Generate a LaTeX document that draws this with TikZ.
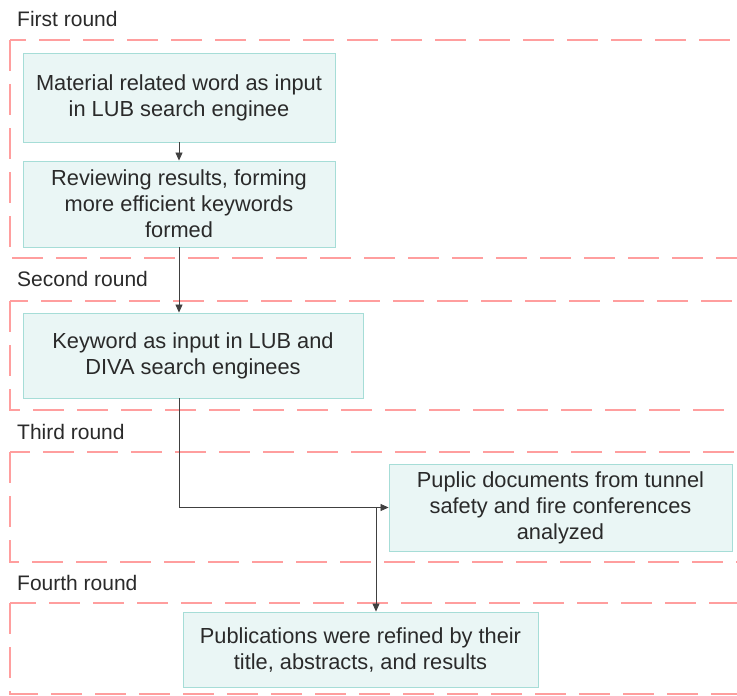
\documentclass[tikz,border=0pt]{standalone}
\usepackage{fontspec}
\setmainfont{Liberation Sans}
\usetikzlibrary{arrows.meta}
\definecolor{boxfill}{HTML}{EAF6F5}
\definecolor{boxline}{HTML}{A6DDD7}
\definecolor{roundline}{HTML}{FF9E9E}
\definecolor{txt}{HTML}{2A2A2A}
\definecolor{conn}{HTML}{404040}
\begin{document}
\begin{tikzpicture}[x=1bp,y=-1bp,
  stepbox/.style={draw=boxline,fill=boxfill,line width=0.9bp,align=center,text=txt,
    font=\fontsize{21.8bp}{26bp}\selectfont,inner sep=0pt},
  roundbox/.style={draw=roundline,line width=1.4bp,dash pattern=on 31bp off 13bp},
  roundlabel/.style={anchor=west,text=txt,font=\fontsize{21bp}{24bp}\selectfont,inner sep=0pt},
  conn/.style={draw=conn,line width=0.8bp,-{Triangle[length=8bp,width=7bp]}}]
\useasboundingbox (0,0) rectangle (737,696);
\clip (0,0) rectangle (737,696);
\fill[white] (0,0) rectangle (737,696);
% round frames
\draw[roundbox] (10,40) rectangle (790,258);
\draw[roundbox] (10,301) rectangle (790,410);
\draw[roundbox] (10,452) rectangle (790,562);
\draw[roundbox] (10,603) rectangle (790,694);
% labels
\node[roundlabel] (l1) at (17,19) {First round};
\node[roundlabel] (l2) at (17,279) {Second round};
\node[roundlabel] (l3) at (17,432) {Third round};
\node[roundlabel] (l4) at (17,583) {Fourth round};
% boxes
\node[stepbox,minimum width=312bp,minimum height=89bp] (A) at (179,97.5)
  {Material related word as input\\in LUB search enginee};
\node[stepbox,minimum width=312bp,minimum height=86bp] (B) at (179,204)
  {Reviewing results, forming\\more efficient keywords\\formed};
\node[stepbox,minimum width=340bp,minimum height=85bp] (C) at (193,355.5)
  {Keyword as input in LUB and\\DIVA search enginees};
\node[stepbox,minimum width=343bp,minimum height=87bp] (D) at (560.5,507.5)
  {Puplic documents from tunnel\\safety and fire conferences\\analyzed};
\node[stepbox,minimum width=355bp,minimum height=75bp] (E) at (360.5,649.5)
  {Publications were refined by their\\title, abstracts, and results};
% connectors
\draw[conn] (A.south) -- (B.north);
\draw[conn] (B.south) -- (C.north -| B.south);
\draw[conn] (C.south -| B.south) |- (D.west);
\coordinate (j) at (376,507.5);
\draw[conn] (j) -- (j |- E.north);
\end{tikzpicture}
\end{document}
